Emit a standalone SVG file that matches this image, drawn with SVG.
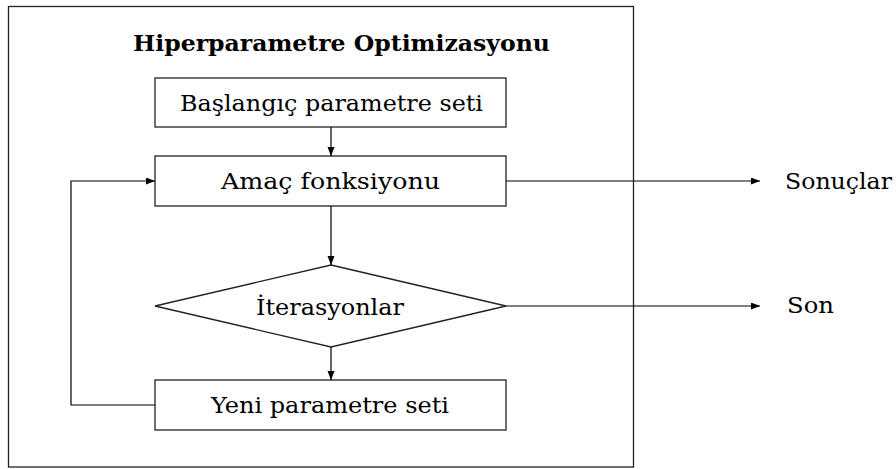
<svg xmlns="http://www.w3.org/2000/svg" width="896" height="469" viewBox="0 0 896 469">
<style>
.shape{fill:#fff;stroke:#222;stroke-width:1.3}
.frame{fill:none;stroke:#222;stroke-width:1.3}
.conn{fill:none;stroke:#000;stroke-width:1.2}
</style>
<defs>
<marker id="arr" markerUnits="userSpaceOnUse" markerWidth="10" markerHeight="8" refX="9" refY="3.5" orient="auto">
<path d="M0,0 L9,3.5 L0,7 z" fill="#000"/>
</marker>
</defs>
<rect class="frame" x="8.5" y="6.5" width="625" height="460.5"/>
<g font-family="DejaVu Serif, serif" font-size="22" fill="#000">
<text font-weight="bold" x="133" y="51" textLength="417" lengthAdjust="spacingAndGlyphs">Hiperparametre Optimizasyonu</text>
<g id="baslangic">
<rect class="shape" x="155" y="78" width="351" height="49"/>
<text x="180" y="111" textLength="303" lengthAdjust="spacingAndGlyphs">Başlangıç parametre seti</text>
</g>
<g id="amac">
<rect class="shape" x="155" y="156" width="351" height="50"/>
<text x="221" y="189" textLength="219" lengthAdjust="spacingAndGlyphs">Amaç fonksiyonu</text>
</g>
<g id="iterasyonlar">
<polygon class="shape" points="331,265 506,306 331,347 155,306"/>
<text x="256" y="315" textLength="148" lengthAdjust="spacingAndGlyphs">İterasyonlar</text>
</g>
<g id="yeni">
<rect class="shape" x="155" y="380" width="351" height="50"/>
<text x="211" y="413" textLength="238" lengthAdjust="spacingAndGlyphs">Yeni parametre seti</text>
</g>
<g id="sonuclar">
<text x="785" y="189" textLength="107" lengthAdjust="spacingAndGlyphs">Sonuçlar</text>
</g>
<g id="son">
<text x="787" y="313" textLength="47" lengthAdjust="spacingAndGlyphs">Son</text>
</g>
</g>
<g id="connectors">
<line class="conn" x1="331" y1="127" x2="331" y2="156" marker-end="url(#arr)"/>
<line class="conn" x1="331" y1="206" x2="331" y2="265" marker-end="url(#arr)"/>
<line class="conn" x1="331" y1="347" x2="331" y2="380" marker-end="url(#arr)"/>
<polyline class="conn" points="155,405 71,405 71,181 155,181" marker-end="url(#arr)"/>
<line class="conn" x1="506" y1="181" x2="760" y2="181" marker-end="url(#arr)"/>
<line class="conn" x1="506" y1="306" x2="760" y2="306" marker-end="url(#arr)"/>
</g>
</svg>
